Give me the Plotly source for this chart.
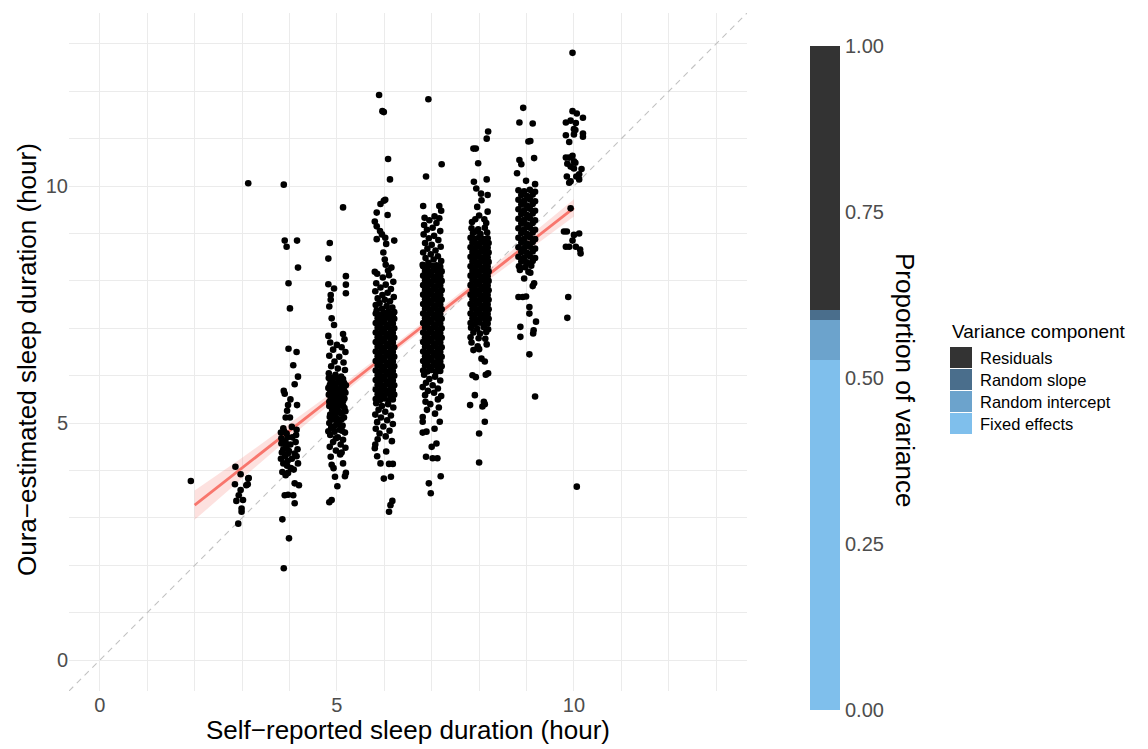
import plotly.graph_objects as go

# ---------------- data ----------------
col2 = [[1.92, 3.78]]
col3 = [[3.13, 10.06], [2.86, 4.08], [2.97, 3.92], [3.14, 3.84], [2.85, 3.71], [3.09, 3.69],
        [2.97, 3.59], [2.93, 3.48], [2.88, 3.36], [3.02, 3.38], [2.99, 3.20], [2.99, 3.13],
        [2.92, 2.88], [3.13, 3.83], [3.12, 3.71]]
col4 = [[3.88, 10.03], [3.90, 8.85], [3.94, 8.72], [4.16, 8.85], [4.18, 8.28], [3.98, 7.95],
        [4.01, 7.42], [3.98, 6.57], [4.15, 6.50], [4.08, 6.22], [4.18, 5.98], [4.11, 5.82],
        [3.88, 5.68], [3.90, 5.62], [4.02, 5.50], [4.16, 5.38], [3.97, 5.38], [3.95, 5.26],
        [4.01, 5.12], [3.92, 5.12], [3.87, 4.89], [3.94, 4.78], [4.15, 4.86], [4.14, 4.75],
        [3.83, 4.68], [3.83, 4.57], [3.92, 4.59], [3.94, 4.47], [3.87, 4.45], [3.97, 4.36],
        [4.11, 4.36], [4.15, 4.30], [4.18, 4.15], [3.87, 4.15], [3.95, 4.10], [3.85, 3.97],
        [3.97, 3.95], [3.92, 3.90], [4.11, 3.73], [4.20, 3.69], [3.90, 3.48], [3.97, 3.49],
        [4.08, 3.48], [4.11, 3.31], [3.85, 2.97], [3.99, 2.57], [3.88, 1.94], [3.86, 4.62],
        [3.93, 4.52], [3.99, 4.41], [4.05, 4.25], [3.89, 4.82], [3.96, 4.70], [4.03, 4.05],
        [3.82, 4.80], [4.05, 4.92], [3.91, 4.30], [4.02, 4.55], [4.13, 4.60], [3.84, 4.38],
        [4.06, 4.70], [4.17, 4.45], [3.96, 4.20], [4.09, 4.02], [3.82, 4.25]]
col5 = [[5.13, 9.55], [4.85, 8.80], [4.82, 8.47], [5.19, 8.10], [5.19, 7.92], [5.19, 7.74],
        [4.82, 7.93], [4.94, 7.84], [4.87, 7.70], [4.87, 7.60], [4.84, 7.46], [4.89, 7.21],
        [4.94, 7.07], [4.82, 6.84], [5.13, 6.88], [5.16, 6.77], [4.86, 6.70], [5.00, 6.65],
        [5.10, 6.60], [4.92, 6.55], [5.18, 6.50], [4.84, 6.42], [5.05, 6.40], [4.95, 6.30],
        [5.14, 6.28], [4.88, 6.20], [5.02, 6.15], [5.17, 6.12], [4.83, 6.05], [4.97, 6.02],
        [5.09, 5.98], [4.90, 5.92], [5.04, 5.88], [5.15, 5.85], [4.85, 5.80], [4.96, 5.78],
        [5.11, 5.74], [4.89, 5.70], [5.02, 5.66], [5.18, 5.64], [4.83, 5.60], [4.94, 5.58],
        [5.07, 5.55], [4.87, 5.50], [5.00, 5.48], [5.13, 5.46], [4.92, 5.42], [5.05, 5.40],
        [4.84, 5.36], [4.98, 5.33], [5.16, 5.32], [4.90, 5.28], [5.03, 5.25], [5.10, 5.20],
        [4.86, 5.18], [4.97, 5.15], [5.15, 5.12], [4.91, 5.08], [5.04, 5.05], [4.84, 5.00],
        [4.99, 4.98], [5.12, 4.95], [4.88, 4.90], [5.06, 4.86], [4.95, 4.82], [5.17, 4.80],
        [4.86, 4.75], [5.02, 4.70], [5.13, 4.65], [4.92, 4.60], [5.08, 4.55], [4.85, 4.50],
        [5.18, 4.48], [4.98, 4.42], [5.10, 4.38], [4.87, 4.29], [5.07, 4.34], [5.13, 4.15],
        [4.89, 4.12], [4.96, 3.87], [5.17, 3.88], [5.01, 3.67], [4.89, 3.38], [4.84, 3.33],
        [5.19, 3.95], [4.93, 4.05],
        [4.83, 5.95], [4.93, 5.96], [5.03, 5.94], [5.13, 5.93], [4.87, 5.86], [4.98, 5.84],
        [5.09, 5.82], [5.19, 5.80], [4.82, 5.74], [4.92, 5.73], [5.06, 5.72], [5.15, 5.70],
        [4.86, 5.64], [4.97, 5.63], [5.10, 5.61], [4.91, 5.54], [5.03, 5.53], [5.16, 5.52],
        [4.84, 5.45], [4.96, 5.44], [5.09, 5.42], [4.88, 5.35], [5.02, 5.34], [5.13, 5.36],
        [4.93, 5.24], [5.07, 5.23], [5.18, 5.25], [4.85, 5.13], [5.00, 5.10], [5.10, 5.08],
        [4.94, 4.93], [5.06, 4.96], [4.82, 4.83], [5.11, 4.84], [4.98, 4.68]]
col6 = [[5.89, 11.92], [5.96, 11.58], [5.99, 11.56], [6.08, 10.57], [6.12, 10.14], [5.99, 9.69],
        [6.02, 9.71], [5.92, 9.62], [5.84, 9.44], [6.07, 9.39], [5.80, 9.25], [5.84, 9.15],
        [5.91, 9.05], [5.95, 8.98], [6.02, 8.91], [5.84, 8.88], [6.21, 8.85], [6.04, 8.78],
        [5.98, 8.60], [6.01, 8.45], [6.03, 8.34], [5.80, 8.19], [6.08, 8.22], [6.15, 8.28],
        [5.85, 8.15], [6.10, 8.12], [5.97, 8.07], [6.19, 7.98], [5.83, 7.95], [6.03, 7.92],
        [5.92, 7.86], [6.14, 7.83], [5.81, 7.78], [6.07, 7.75], [5.96, 7.70], [6.20, 7.66],
        [5.86, 7.63], [6.01, 7.60], [6.12, 7.57], [5.90, 7.53], [5.82, 7.49], [6.05, 7.47],
        [6.17, 7.44], [5.95, 7.41], [5.84, 7.38], [6.09, 7.36], [6.21, 7.34], [5.99, 7.33],
        [5.82, 7.31], [5.91, 7.28], [6.00, 7.30], [6.09, 7.27], [6.18, 7.29],
        [5.86, 7.21], [5.95, 7.19], [6.04, 7.22], [6.13, 7.18], [6.21, 7.20],
        [5.82, 7.11], [5.91, 7.09], [6.00, 7.12], [6.09, 7.08], [6.18, 7.10],
        [5.86, 7.01], [5.95, 6.99], [6.04, 7.02], [6.13, 6.98], [6.21, 7.00],
        [5.82, 6.91], [5.91, 6.89], [6.00, 6.92], [6.09, 6.88], [6.18, 6.90],
        [5.86, 6.81], [5.95, 6.79], [6.04, 6.82], [6.13, 6.78], [6.21, 6.80],
        [5.82, 6.71], [5.91, 6.69], [6.00, 6.72], [6.09, 6.68], [6.18, 6.70],
        [5.86, 6.61], [5.95, 6.59], [6.04, 6.62], [6.13, 6.58], [6.21, 6.60],
        [5.82, 6.51], [5.91, 6.49], [6.00, 6.52], [6.09, 6.48], [6.18, 6.50],
        [5.86, 6.41], [5.95, 6.39], [6.04, 6.42], [6.13, 6.38], [6.21, 6.40],
        [5.82, 6.31], [5.91, 6.29], [6.00, 6.32], [6.09, 6.28], [6.18, 6.30],
        [5.86, 6.21], [5.95, 6.19], [6.04, 6.22], [6.13, 6.18], [6.21, 6.20],
        [5.82, 6.11], [5.91, 6.09], [6.00, 6.12], [6.09, 6.08], [6.18, 6.10],
        [5.86, 6.01], [5.95, 5.99], [6.04, 6.02], [6.13, 5.98], [6.21, 6.00],
        [5.82, 5.91], [5.91, 5.89], [6.00, 5.92], [6.09, 5.88], [6.18, 5.90],
        [5.86, 5.81], [5.95, 5.79], [6.04, 5.82], [6.13, 5.78], [6.21, 5.80],
        [5.82, 5.71], [5.91, 5.69], [6.00, 5.72], [6.09, 5.68], [6.18, 5.70],
        [5.86, 5.61], [5.95, 5.59], [6.04, 5.62], [6.13, 5.58], [6.21, 5.60],
        [5.82, 5.51], [5.91, 5.49], [6.00, 5.52], [6.09, 5.48], [6.18, 5.50],
        [5.83, 5.42], [6.08, 5.40], [5.95, 5.36], [6.19, 5.33], [5.88, 5.28], [6.02, 5.24],
        [5.81, 5.18], [6.14, 5.16], [5.93, 5.12], [6.06, 5.06], [5.85, 5.02], [6.18, 4.98],
        [5.98, 4.93], [5.82, 4.88], [6.11, 4.84], [5.90, 4.78], [6.03, 4.72], [5.86, 4.66],
        [6.16, 4.62], [5.81, 4.55], [5.80, 4.47], [5.92, 4.15], [6.10, 4.14], [6.18, 4.14],
        [5.99, 3.83], [6.14, 3.87], [6.17, 3.36], [6.13, 3.27], [6.10, 3.13], [5.85, 4.30],
        [6.04, 4.40]]
col7 = [[6.93, 11.83], [7.21, 10.46], [6.88, 10.20], [6.82, 9.58], [7.16, 9.58], [7.20, 9.48],
        [6.85, 9.33], [7.06, 9.36], [7.16, 9.32], [6.95, 9.28], [7.10, 9.22], [6.84, 9.18],
        [7.02, 9.12], [6.90, 9.08], [7.18, 9.05], [6.83, 8.98], [7.05, 8.95], [6.94, 8.90],
        [7.14, 8.86], [6.86, 8.80], [7.00, 8.76], [7.19, 8.72], [6.91, 8.68], [7.08, 8.64],
        [6.82, 8.60], [6.98, 8.56], [7.13, 8.52], [6.87, 8.48], [7.04, 8.45], [7.20, 8.42],
        [6.93, 8.38], [6.81, 8.34], [7.10, 8.33],
        [6.82, 8.31], [6.91, 8.29], [7.00, 8.32], [7.09, 8.28], [7.18, 8.30],
        [6.86, 8.21], [6.95, 8.19], [7.04, 8.22], [7.13, 8.18], [7.21, 8.20],
        [6.82, 8.11], [6.91, 8.09], [7.00, 8.12], [7.09, 8.08], [7.18, 8.10],
        [6.86, 8.01], [6.95, 7.99], [7.04, 8.02], [7.13, 7.98], [7.21, 8.00],
        [6.82, 7.91], [6.91, 7.89], [7.00, 7.92], [7.09, 7.88], [7.18, 7.90],
        [6.86, 7.81], [6.95, 7.79], [7.04, 7.82], [7.13, 7.78], [7.21, 7.80],
        [6.82, 7.71], [6.91, 7.69], [7.00, 7.72], [7.09, 7.68], [7.18, 7.70],
        [6.86, 7.61], [6.95, 7.59], [7.04, 7.62], [7.13, 7.58], [7.21, 7.60],
        [6.82, 7.51], [6.91, 7.49], [7.00, 7.52], [7.09, 7.48], [7.18, 7.50],
        [6.86, 7.41], [6.95, 7.39], [7.04, 7.42], [7.13, 7.38], [7.21, 7.40],
        [6.82, 7.31], [6.91, 7.29], [7.00, 7.32], [7.09, 7.28], [7.18, 7.30],
        [6.86, 7.21], [6.95, 7.19], [7.04, 7.22], [7.13, 7.18], [7.21, 7.20],
        [6.82, 7.11], [6.91, 7.09], [7.00, 7.12], [7.09, 7.08], [7.18, 7.10],
        [6.86, 7.01], [6.95, 6.99], [7.04, 7.02], [7.13, 6.98], [7.21, 7.00],
        [6.82, 6.91], [6.91, 6.89], [7.00, 6.92], [7.09, 6.88], [7.18, 6.90],
        [6.86, 6.81], [6.95, 6.79], [7.04, 6.82], [7.13, 6.78], [7.21, 6.80],
        [6.82, 6.71], [6.91, 6.69], [7.00, 6.72], [7.09, 6.68], [7.18, 6.70],
        [6.86, 6.61], [6.95, 6.59], [7.04, 6.62], [7.13, 6.58], [7.21, 6.60],
        [6.82, 6.51], [6.91, 6.49], [7.00, 6.52], [7.09, 6.48], [7.18, 6.50],
        [6.86, 6.41], [6.95, 6.39], [7.04, 6.42], [7.13, 6.38], [7.21, 6.40],
        [6.82, 6.31], [6.91, 6.29], [7.00, 6.32], [7.09, 6.28], [7.18, 6.30],
        [6.86, 6.21], [6.95, 6.19], [7.04, 6.22], [7.13, 6.18], [7.21, 6.20],
        [6.82, 6.11], [6.91, 6.09], [7.00, 6.12], [7.09, 6.08], [7.18, 6.10],
        [6.84, 6.02], [7.07, 5.98], [6.95, 5.93], [7.18, 5.90], [6.88, 5.85], [7.02, 5.80],
        [6.81, 5.76], [7.13, 5.73], [6.92, 5.68], [7.05, 5.64], [6.86, 5.59], [7.20, 5.57],
        [7.13, 5.50], [6.87, 5.45], [6.97, 5.40], [7.15, 5.33], [6.90, 5.28], [7.07, 5.20],
        [6.81, 5.13], [6.81, 5.03], [7.17, 5.03], [6.81, 4.80], [6.89, 4.82], [7.06, 4.88],
        [7.00, 4.50], [7.10, 4.57], [6.88, 4.29], [7.02, 4.26], [7.12, 4.26], [7.19, 3.88],
        [6.94, 3.73], [6.98, 3.52]]
col8 = [[8.19, 11.15], [8.16, 11.00], [7.88, 10.79], [7.93, 10.79], [7.98, 10.48], [8.16, 10.14],
        [7.89, 10.09], [7.94, 9.95], [8.04, 9.84], [8.18, 9.81], [8.05, 9.70], [7.96, 9.56],
        [8.18, 9.46], [7.92, 9.30], [8.11, 9.30], [8.00, 9.38], [7.85, 9.24], [8.15, 9.22],
        [7.84, 9.11], [7.98, 9.09], [8.12, 9.12], [7.87, 9.01], [8.03, 8.99], [8.17, 9.02],
        [7.95, 9.04],
        [7.82, 8.91], [7.91, 8.89], [8.00, 8.92], [8.09, 8.88], [8.18, 8.90],
        [7.86, 8.81], [7.95, 8.79], [8.04, 8.82], [8.13, 8.78], [8.20, 8.80],
        [7.82, 8.71], [7.91, 8.69], [8.00, 8.72], [8.09, 8.68], [8.18, 8.70],
        [7.86, 8.61], [7.95, 8.59], [8.04, 8.62], [8.13, 8.58], [8.20, 8.60],
        [7.82, 8.51], [7.91, 8.49], [8.00, 8.52], [8.09, 8.48], [8.18, 8.50],
        [7.86, 8.41], [7.95, 8.39], [8.04, 8.42], [8.13, 8.38], [8.20, 8.40],
        [7.82, 8.31], [7.91, 8.29], [8.00, 8.32], [8.09, 8.28], [8.18, 8.30],
        [7.86, 8.21], [7.95, 8.19], [8.04, 8.22], [8.13, 8.18], [8.20, 8.20],
        [7.82, 8.11], [7.91, 8.09], [8.00, 8.12], [8.09, 8.08], [8.18, 8.10],
        [7.86, 8.01], [7.95, 7.99], [8.04, 8.02], [8.13, 7.98], [8.20, 8.00],
        [7.82, 7.91], [7.91, 7.89], [8.00, 7.92], [8.09, 7.88], [8.18, 7.90],
        [7.86, 7.81], [7.95, 7.79], [8.04, 7.82], [8.13, 7.78], [8.20, 7.80],
        [7.82, 7.71], [7.91, 7.69], [8.00, 7.72], [8.09, 7.68], [8.18, 7.70],
        [7.86, 7.61], [7.95, 7.59], [8.04, 7.62], [8.13, 7.58], [8.20, 7.60],
        [7.82, 7.51], [7.91, 7.49], [8.00, 7.52], [8.09, 7.48], [8.18, 7.50],
        [7.86, 7.41], [7.95, 7.39], [8.04, 7.42], [8.13, 7.38], [8.20, 7.40],
        [7.82, 7.31], [7.91, 7.29], [8.00, 7.32], [8.09, 7.28], [8.18, 7.30],
        [7.86, 7.21], [7.95, 7.19], [8.04, 7.22], [8.13, 7.18], [8.20, 7.20],
        [7.82, 7.11], [7.91, 7.09], [8.00, 7.12], [8.09, 7.08], [8.18, 7.10],
        [7.83, 7.01], [7.96, 6.99], [8.10, 7.02], [8.19, 6.98], [7.88, 6.91], [8.02, 6.89],
        [8.15, 6.92], [7.82, 6.81], [7.99, 6.79], [8.13, 6.78], [7.84, 6.70], [8.16, 6.66],
        [7.97, 6.62], [7.88, 6.54], [8.00, 6.56], [8.05, 6.36], [8.12, 6.30], [8.19, 6.05],
        [7.86, 6.01], [7.93, 5.97], [8.14, 6.02], [7.91, 5.59], [7.81, 5.38], [8.10, 5.45],
        [8.12, 5.40], [8.07, 5.35], [8.12, 5.03], [8.00, 4.78], [8.00, 4.17]]
col9 = [[8.93, 11.65], [8.85, 11.34], [9.13, 11.32], [9.04, 10.94], [9.08, 10.95], [9.16, 10.59],
        [8.85, 10.55], [8.89, 10.46], [8.80, 10.27], [9.18, 10.04], [8.99, 10.11],
        [8.83, 9.91], [8.95, 9.89], [9.07, 9.92], [9.18, 9.88],
        [8.89, 9.81], [9.01, 9.79], [9.13, 9.82],
        [8.83, 9.71], [8.95, 9.69], [9.07, 9.72], [9.18, 9.68],
        [8.89, 9.61], [9.01, 9.59], [9.13, 9.62],
        [8.83, 9.51], [8.95, 9.49], [9.07, 9.52], [9.18, 9.48],
        [8.89, 9.41], [9.01, 9.39], [9.13, 9.42],
        [8.83, 9.31], [8.95, 9.29], [9.07, 9.32], [9.18, 9.28],
        [8.89, 9.21], [9.01, 9.19], [9.13, 9.22],
        [8.83, 9.11], [8.95, 9.09], [9.07, 9.12], [9.18, 9.08],
        [8.89, 9.01], [9.01, 8.99], [9.13, 9.02],
        [8.83, 8.91], [8.95, 8.89], [9.07, 8.92], [9.18, 8.88],
        [8.89, 8.81], [9.01, 8.79], [9.13, 8.82],
        [8.83, 8.71], [8.95, 8.69], [9.07, 8.72], [9.18, 8.68],
        [8.89, 8.61], [9.01, 8.59], [9.13, 8.62],
        [8.83, 8.51], [8.95, 8.49], [9.07, 8.52], [9.18, 8.48],
        [8.89, 8.41], [9.01, 8.39], [9.13, 8.42],
        [8.84, 8.31], [8.97, 8.29], [9.10, 8.32],
        [8.86, 8.23], [9.04, 8.19], [9.08, 8.17], [8.83, 7.66], [8.92, 7.66], [8.99, 7.67],
        [9.13, 7.89], [9.06, 7.45], [9.06, 7.31], [9.20, 7.14], [8.87, 7.03], [8.87, 6.82],
        [9.15, 6.96], [9.14, 6.89], [9.06, 6.45], [9.18, 5.56], [8.95, 8.05], [9.16, 7.95]]
col10 = [[9.97, 12.81], [9.97, 11.58], [10.06, 11.53], [10.19, 11.44], [9.93, 11.38], [9.83, 11.34],
         [10.04, 11.33], [10.00, 11.20], [10.03, 11.18], [10.19, 11.11], [10.00, 11.09], [9.83, 11.07],
         [10.19, 11.04], [9.90, 10.93], [9.83, 10.60], [9.90, 10.60], [9.97, 10.64], [10.00, 10.52],
         [10.03, 10.49], [9.86, 10.47], [9.93, 10.41], [10.00, 10.37], [10.16, 10.36], [10.11, 10.25],
         [9.85, 10.20], [10.05, 10.20], [9.93, 10.10], [10.11, 10.14], [9.90, 10.07], [9.93, 9.53],
         [9.79, 9.04], [9.85, 9.04], [10.11, 9.00], [10.00, 8.97], [9.97, 8.85], [9.83, 8.72],
         [9.90, 8.72], [10.04, 8.72], [10.13, 8.66], [10.14, 8.58], [9.88, 7.66], [9.86, 7.22],
         [10.06, 3.66]]

# fitted mixed-model line with confidence band
fit_x = [2, 3, 4, 5, 6, 7, 8, 9, 10]
fit_y = [3.27, 4.05, 4.84, 5.62, 6.41, 7.19, 7.97, 8.76, 9.54]
ci_lo = [2.96, 3.83, 4.69, 5.52, 6.33, 7.11, 7.87, 8.62, 9.36]
ci_hi = [3.58, 4.27, 4.99, 5.72, 6.49, 7.27, 8.07, 8.90, 9.72]

# identity reference line
ident = [-0.65, 13.65]

# variance decomposition (bottom to top)
components = ["Fixed effects", "Random intercept", "Random slope", "Residuals"]
proportions = [0.527, 0.060, 0.016, 0.397]
comp_colors = ["#7FBFEC", "#6CA3CC", "#4A6E8C", "#333333"]

axis_ticks = [0, 5, 10]
grid_ticks = list(range(0, 14))
prop_ticks = [0, 0.25, 0.5, 0.75, 1.0]
prop_labels = ["0.00", "0.25", "0.50", "0.75", "1.00"]

# ---------------- figure ----------------
W, H = 1148, 749
FONT = "Liberation Sans, Arial, Helvetica, sans-serif"
GRID = "#ebebeb"
TICKC = "#4d4d4d"

all_pts = col2 + col3 + col4 + col5 + col6 + col7 + col8 + col9 + col10
px_ = [p[0] for p in all_pts]
py_ = [p[1] for p in all_pts]

fig = go.Figure()

fig.add_trace(go.Scatter(x=ident, y=ident, mode="lines",
                         line=dict(color="#c2c2c2", width=1.1, dash="6px,5px"),
                         hoverinfo="skip", showlegend=False))
fig.add_trace(go.Scatter(x=fit_x + fit_x[::-1], y=ci_hi + ci_lo[::-1], fill="toself",
                         fillcolor="rgba(248,118,109,0.22)", line=dict(width=0),
                         mode="lines", hoverinfo="skip", showlegend=False))
fig.add_trace(go.Scatter(x=fit_x, y=fit_y, mode="lines",
                         line=dict(color="#F8766D", width=2.8), showlegend=False))
fig.add_trace(go.Scatter(x=px_, y=py_, mode="markers",
                         marker=dict(color="black", size=6.6, line=dict(width=0)),
                         showlegend=False))

for name, val, col in zip(components, proportions, comp_colors):
    fig.add_trace(go.Bar(x=[0], y=[val], name=name, marker=dict(color=col, line=dict(width=0)),
                         width=1, xaxis="x2", yaxis="y2", showlegend=False))

left, right, top, bottom = 69, 747, 13, 691
bl, br, bt, bb = 810, 840, 46, 710

fig.update_layout(
    width=W, height=H, autosize=False, margin=dict(l=0, r=0, t=0, b=0, pad=0),
    paper_bgcolor="white", plot_bgcolor="white",
    barmode="stack", showlegend=False,
    font=dict(family=FONT),
    xaxis=dict(domain=[left / W, right / W], range=[-0.65, 13.65], automargin=False,
               tickvals=axis_ticks, ticks="", showgrid=True, gridcolor=GRID, gridwidth=1.3,
               zeroline=False, showline=False,
               tickfont=dict(size=20, color=TICKC),
               minor=dict(tickvals=grid_ticks, showgrid=True, gridcolor=GRID, gridwidth=1)),
    yaxis=dict(domain=[1 - bottom / H, 1 - top / H], range=[-0.65, 13.65], automargin=False,
               tickvals=axis_ticks, ticks="", showgrid=True, gridcolor=GRID, gridwidth=1.3,
               zeroline=False, showline=False,
               tickfont=dict(size=20, color=TICKC),
               minor=dict(tickvals=grid_ticks, showgrid=True, gridcolor=GRID, gridwidth=1)),
    xaxis2=dict(domain=[bl / W, br / W], range=[-0.5, 0.5], anchor="y2", visible=False,
                automargin=False),
    yaxis2=dict(domain=[1 - bb / H, 1 - bt / H], range=[0, 1], anchor="x2", side="right",
                automargin=False,
                tickvals=prop_ticks, ticktext=prop_labels, ticks="", showgrid=False,
                zeroline=False, showline=False, tickfont=dict(size=20, color=TICKC),
                ticklabelstandoff=4),
)

ann = []
ann.append(dict(text="Self\u2212reported sleep duration (hour)", x=408 / W, y=1 - 730 / H,
                xref="paper", yref="paper", showarrow=False, xanchor="center", yanchor="middle",
                font=dict(size=26, color="black", family=FONT)))
ann.append(dict(text="Oura\u2212estimated sleep duration (hour)", x=27 / W, y=1 - 360 / H,
                xref="paper", yref="paper", showarrow=False, xanchor="center", yanchor="middle",
                textangle=-90, font=dict(size=26, color="black", family=FONT)))
ann.append(dict(text="Proportion of variance", x=905 / W, y=1 - 380 / H,
                xref="paper", yref="paper", showarrow=False, xanchor="center", yanchor="middle",
                textangle=90, font=dict(size=26, color="black", family=FONT)))
ann.append(dict(text="Variance component", x=950 / W, y=1 - 331 / H,
                xref="paper", yref="paper", showarrow=False, xanchor="left", yanchor="middle",
                font=dict(size=19, color="black", family=FONT)))

shapes = []
legend_order = components[::-1]
legend_cols = comp_colors[::-1]
key_top = 347
key_h = 22
for i, (name, col) in enumerate(zip(legend_order, legend_cols)):
    y0 = key_top + i * key_h
    shapes.append(dict(type="rect", xref="paper", yref="paper",
                       x0=950 / W, x1=972 / W, y0=1 - (y0 + key_h - 1) / H, y1=1 - y0 / H,
                       fillcolor=col, line=dict(width=0)))
    ann.append(dict(text=name, x=978 / W, y=1 - (y0 + key_h / 2) / H,
                    xref="paper", yref="paper", showarrow=False, xanchor="left", yanchor="middle",
                    font=dict(size=16.5, color="black", family=FONT)))

fig.update_layout(annotations=ann, shapes=shapes)
fig.write_html("out.html")
